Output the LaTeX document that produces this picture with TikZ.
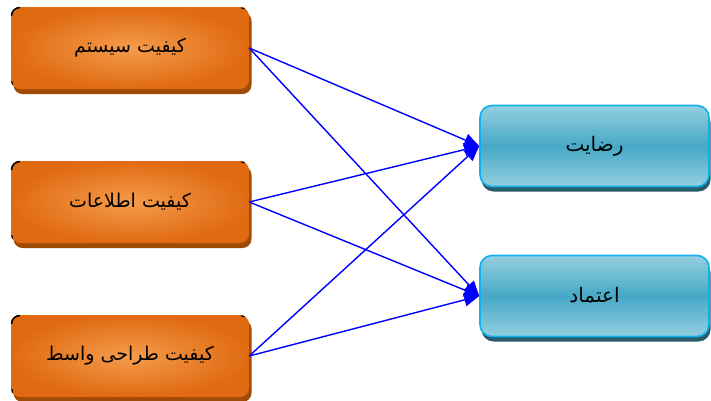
\documentclass[tikz,border=0pt]{standalone}
\usepackage{fontspec}
\newfontfamily\arabicfont[Script=Arabic]{DejaVu Sans}
\TeXXeTstate=1
\usetikzlibrary{shadows,arrows.meta,calc}
\definecolor{orangeedge}{HTML}{E06A12}
\definecolor{orangemid}{HTML}{F59C4C}
\definecolor{orangeshadow}{HTML}{A04A08}
\definecolor{bluetop}{HTML}{94CFDF}
\definecolor{bluemid}{HTML}{46A8C6}
\definecolor{blueborder}{HTML}{10B0EE}
\definecolor{blueshadow}{HTML}{2A5C6C}
\definecolor{arrowblue}{HTML}{0000FF}
\begin{document}
\begin{tikzpicture}[x=1pt,y=-1pt,
  srcbox/.style={rounded corners=9pt, minimum width=238pt, minimum height=82pt, inner sep=0pt,
    shading=radial, inner color=orangemid, outer color=orangeedge,
    drop shadow={shadow xshift=2.5pt, shadow yshift=-5pt, fill=orangeshadow, opacity=1},
    font=\arabicfont\fontsize{19}{22}\selectfont},
  dstbox/.style={rounded corners=12pt, minimum width=229pt, minimum height=81pt, inner sep=0pt,
    draw=blueborder, line width=1.6pt,
    top color=bluetop, bottom color=bluetop, middle color=bluemid,
    drop shadow={shadow xshift=1.5pt, shadow yshift=-5pt, fill=blueshadow, opacity=1},
    font=\arabicfont\fontsize{20}{23}\selectfont},
  link/.style={draw=arrowblue, line width=1.4pt, -{Triangle[length=15pt,width=13pt]}},
  cornermark/.style={draw=black, line width=1.6pt, rounded corners=8pt}
]
\useasboundingbox (0,0) rectangle (711,400);

\node[srcbox] (s1) at (130,48) {\raisebox{2pt}{\beginR کیفیت سیستم\endR}};
\node[srcbox] (s2) at (130,202) {\raisebox{2pt}{\beginR کیفیت اطلاعات\endR}};
\node[srcbox] (s3) at (130,356) {\raisebox{2pt}{\beginR کیفیت طراحی واسط\endR}};

\foreach \n in {s1,s2,s3}{
  \draw[cornermark] ($(\n.north west)+(0.8,9)$) -- ($(\n.north west)+(0.8,0.8)$) -- ($(\n.north west)+(9,0.8)$);
  \draw[draw=black, line width=1.2pt] ($(\n.north east)+(-8,1)$) -- ($(\n.north east)+(-4.5,1.8)$);
  \draw[draw=black, line width=1.2pt] ($(\n.south west)+(1,-8)$) -- ($(\n.south west)+(1.8,-4.5)$);
}

\node[dstbox] (r) at (594.5,146) {\raisebox{2pt}{\beginR رضایت\endR}};
\node[dstbox] (e) at (594.5,296) {\raisebox{2pt}{\beginR اعتماد\endR}};

\draw[link] (s1.east) -- (r.west);
\draw[link] (s1.east) -- (e.west);
\draw[link] (s2.east) -- (r.west);
\draw[link] (s2.east) -- (e.west);
\draw[link] (s3.east) -- (r.west);
\draw[link] (s3.east) -- (e.west);
\end{tikzpicture}
\end{document}
